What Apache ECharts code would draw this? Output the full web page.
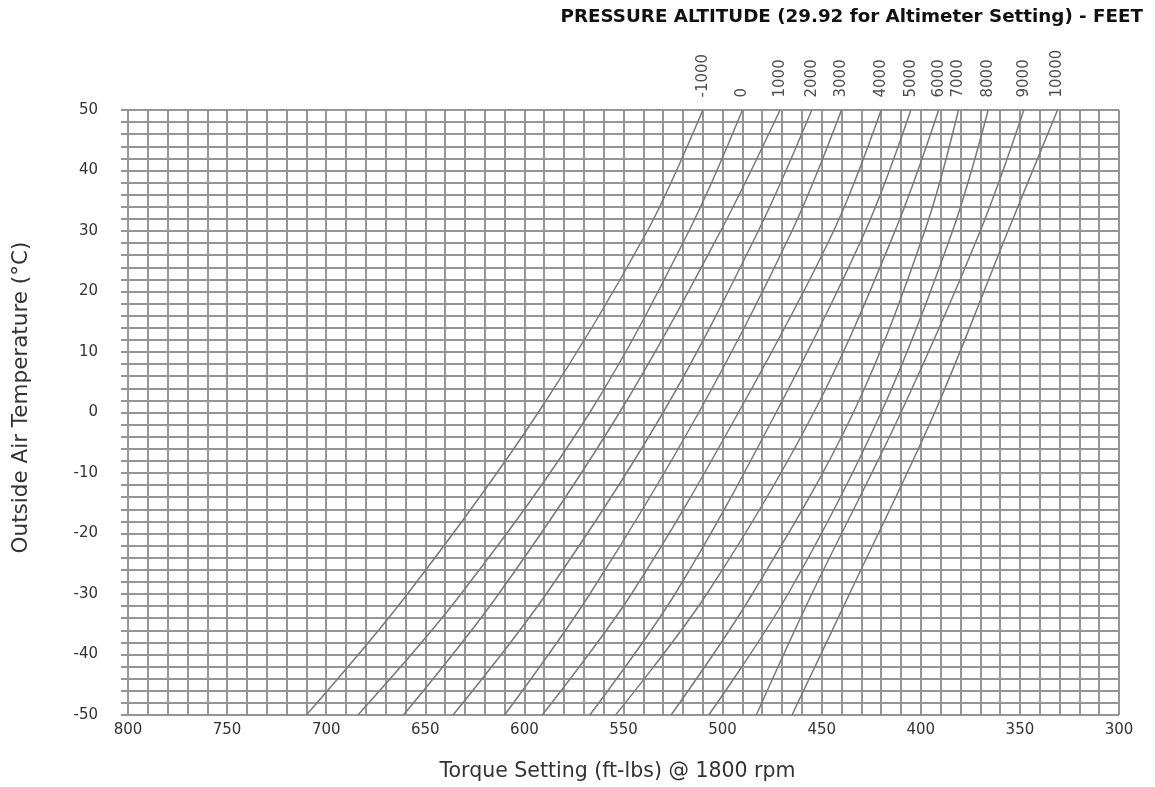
<!DOCTYPE html>
<html>
<head>
<meta charset="utf-8">
<script src="https://cdn.jsdelivr.net/npm/echarts@6/dist/echarts.min.js"></script>
<style>
html,body{margin:0;padding:0;background:#fff;}
#chart{width:1155px;height:787px;}
</style>
</head>
<body>
<div id="chart"></div>
<script>
// Outside air temperature rows (°C) at which torque values were read
const temps = [-50, -30, 0, 30, 50];
// Pressure altitude curve labels (feet)
const altitudes = ['-1000', '0', '1000', '2000', '3000', '4000', '5000', '6000', '7000', '8000', '9000', '10000'];
// Torque setting (ft-lbs) for each altitude curve at the temps above
const torqueAltM1000 = [710, 659, 593, 538, 510];
const torqueAlt0     = [684, 632, 567, 517, 490];
const torqueAlt1000  = [661, 613, 552, 501, 471];
const torqueAlt2000  = [636, 589, 530, 482, 455];
const torqueAlt3000  = [610, 567, 512, 465, 440];
const torqueAlt4000  = [591, 546, 492, 444, 420];
const torqueAlt5000  = [567, 524, 473, 428, 405];
const torqueAlt6000  = [554, 508, 454, 413, 391];
const torqueAlt7000  = [526, 485, 434, 398, 381];
const torqueAlt8000  = [507, 467, 420, 384, 366];
const torqueAlt9000  = [483, 455, 410, 370, 348];
const torqueAlt10000 = [465, 436, 393, 356, 331];
const torqueCurves = [torqueAltM1000, torqueAlt0, torqueAlt1000, torqueAlt2000, torqueAlt3000, torqueAlt4000,
  torqueAlt5000, torqueAlt6000, torqueAlt7000, torqueAlt8000, torqueAlt9000, torqueAlt10000];

const FONT = '"DejaVu Sans", sans-serif';
const GRID = '#959595';
const chart = echarts.init(document.getElementById('chart'));

const series = torqueCurves.map((arr, i) => ({
  name: altitudes[i],
  type: 'line',
  smooth: 0.35,
  symbol: 'none',
  silent: true,
  lineStyle: { color: '#7a7a7a', width: 1.5 },
  data: arr.map((t, j) => [t, temps[j]])
}));

// Altitude labels at the top end of each curve
series.push({
  type: 'scatter',
  silent: true,
  symbolSize: 1,
  itemStyle: { color: 'rgba(0,0,0,0)' },
  label: {
    show: true, position: 'top', rotate: 90, distance: 12,
    align: 'left', verticalAlign: 'middle',
    formatter: p => p.data.name, color: '#222', fontSize: 15, fontFamily: FONT
  },
  data: torqueCurves.map((arr, i) => ({ name: altitudes[i], value: [arr[arr.length - 1], temps[temps.length - 1]] }))
});

chart.setOption({
  animation: false,
  backgroundColor: '#fff',
  title: {
    text: 'PRESSURE ALTITUDE (29.92 for Altimeter Setting) - FEET',
    right: 7, top: 3,
    textStyle: { fontSize: 18.3, fontWeight: 'bold', color: '#111', fontFamily: FONT }
  },
  grid: { left: 128, right: 36, top: 110, bottom: 60, show: true, borderColor: '#aaa', borderWidth: 1 },
  xAxis: {
    type: 'value', min: 300, max: 800, interval: 50, inverse: true,
    name: 'Torque Setting (ft-lbs) @ 1800 rpm', nameLocation: 'middle', nameGap: 46,
    nameTextStyle: { fontSize: 20.5, color: '#333', fontFamily: FONT, padding: [0, 12, 0, 0] },
    axisLine: { show: true, lineStyle: { color: GRID, width: 2 } },
    axisTick: { show: true, length: 7, lineStyle: { color: GRID, width: 2 } },
    minorTick: { show: true, splitNumber: 5, length: 7, lineStyle: { color: GRID, width: 2 } },
    axisLabel: { fontSize: 15, color: '#333', margin: 8, fontFamily: FONT },
    splitLine: { show: true, lineStyle: { color: GRID, width: 2 } },
    minorSplitLine: { show: true, lineStyle: { color: GRID, width: 2 } }
  },
  yAxis: {
    type: 'value', min: -50, max: 50, interval: 10,
    name: 'Outside Air Temperature (°C)', nameLocation: 'middle', nameGap: 96,
    nameTextStyle: { fontSize: 21.5, color: '#333', fontFamily: FONT, padding: [0, 0, 0, 30] },
    axisLine: { show: true, lineStyle: { color: GRID, width: 2 } },
    axisTick: { show: true, length: 7, lineStyle: { color: GRID, width: 2 } },
    minorTick: { show: true, splitNumber: 5, length: 7, lineStyle: { color: GRID, width: 2 } },
    axisLabel: { fontSize: 15, color: '#333', margin: 30, fontFamily: FONT },
    splitLine: { show: true, lineStyle: { color: GRID, width: 2 } },
    minorSplitLine: { show: true, lineStyle: { color: GRID, width: 2 } }
  },
  series: series
});
</script>
</body>
</html>
